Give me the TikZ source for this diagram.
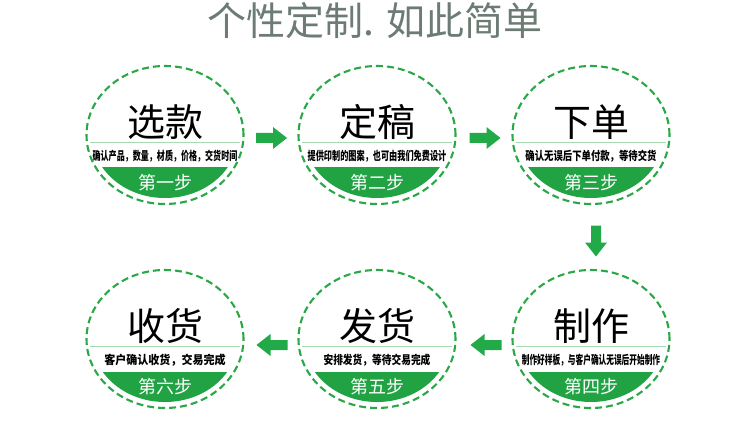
\documentclass[tikz,border=0pt]{standalone}
\usepackage{fontspec}
\setmainfont{Noto Sans CJK SC}
\usetikzlibrary{shapes.geometric}
\definecolor{ringgreen}{RGB}{40,168,70}
\definecolor{fillgreen}{RGB}{33,163,68}
\definecolor{arrowgreen}{RGB}{34,170,72}
\definecolor{linegreen}{RGB}{165,218,178}
\definecolor{headgray}{RGB}{108,124,116}
\tikzset{
  ringnode/.style={ellipse, draw=ringgreen, line width=2.1pt, dash pattern=on 7pt off 4pt,
    minimum width=157pt, minimum height=138pt, inner sep=0pt},
  divider/.style={draw=linegreen, line width=0.8pt},
  titletext/.style={font=\fontsize{38}{40}\selectfont, text=black, inner sep=0pt},
  subtext/.style={font=\bfseries\fontsize{12}{14}\selectfont, text=black, inner sep=0pt},
  steptext/.style={font=\fontsize{18}{20}\selectfont, text=white, inner sep=0pt},
  headtext/.style={font=\fontsize{39}{42}\selectfont, text=headgray, inner sep=0pt},
  barrow/.pic={\fill[arrowgreen] (-15.5,-5) -- (1.5,-5) -- (1.5,-11) -- (15.5,0) -- (1.5,11) -- (1.5,5) -- (-15.5,5) -- cycle;}
}
\newcommand{\stepcircle}[7]{%
  \begin{scope}[shift={(#2,#3)}]
    \begin{scope}
      \clip (-90,33) rectangle (90,90);
      \fill[fillgreen] (0,0) ellipse [x radius=73, y radius=63];
    \end{scope}
    \draw[divider] (-75,7) -- (75,7);
    \node[ringnode] (#1) at (0,0) {};
    \node[titletext] (#1t) at (0,-13) {#4};
    \node[subtext] (#1s) at (0,21) {\scalebox{#5}[1]{#6}};
    \node[steptext] (#1l) at (0,48) {#7};
  \end{scope}
}
\begin{document}
\begin{tikzpicture}[x=1pt,y=-1pt]
\useasboundingbox (0,0) rectangle (750,425);
\fill[white] (0,0) rectangle (750,425);
\node[headtext] (head) at (375,21) {个性定制. 如此简单};
\stepcircle{c1}{165}{135}{选款}{0.67}{确认产品，数量，材质，价格，交货时间}{第一步}
\stepcircle{c2}{377}{135}{定稿}{0.68}{提供印制的图案，也可由我们免费设计}{第二步}
\stepcircle{c3}{591}{135}{下单}{0.78}{确认无误后下单付款，等待交货}{第三步}
\stepcircle{c4}{591}{339}{制作}{0.64}{制作好样板，与客户确认无误后开始制作}{第四步}
\stepcircle{c5}{377}{339}{发货}{0.81}{安排发货，等待交易完成}{第五步}
\stepcircle{c6}{165}{339}{收货}{0.92}{客户确认收货，交易完成}{第六步}
\pic at (271.5,138) {barrow};
\pic at (485,138) {barrow};
\pic[rotate=-90] at (596,241) {barrow};
\pic[rotate=180] at (486,345) {barrow};
\pic[rotate=180] at (272,345) {barrow};
\end{tikzpicture}
\end{document}
